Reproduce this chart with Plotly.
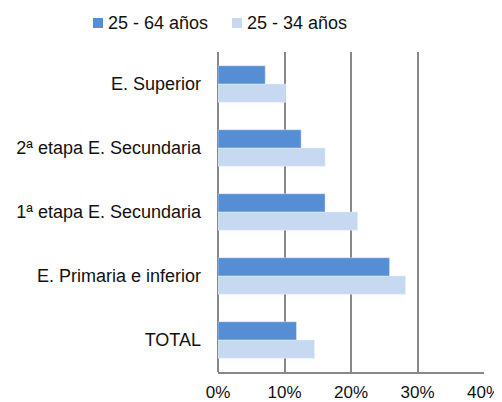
import plotly.graph_objects as go

categorias = ["TOTAL", "E. Primaria e inferior", "1ª etapa E. Secundaria",
              "2ª etapa E. Secundaria", "E. Superior"]
edad_25_64 = [11.8, 25.8, 16.1, 12.5, 7.1]
edad_25_34 = [14.5, 28.2, 21.0, 16.1, 10.2]
ticks_x = [0, 10, 20, 30, 40]
ticks_txt = [f"{t}%" for t in ticks_x]

series = [("25 - 64 años", "#558ED5"), ("25 - 34 años", "#C6D9F1")]

W, H = 502, 402
L, R, T, B = 210, 26, 44, 38
FONT = "Liberation Sans, Arial, sans-serif"


def px_x(v):
    return (v - L) / (W - L - R)


def px_y(v):
    return (H - B - v) / (H - T - B)


fig = go.Figure()
# light series first so it sits below the dark one in each group
fig.add_trace(go.Bar(y=categorias, x=edad_25_34, orientation="h",
                     name=series[1][0], marker_color=series[1][1]))
fig.add_trace(go.Bar(y=categorias, x=edad_25_64, orientation="h",
                     name=series[0][0], marker_color=series[0][1]))

# legend drawn by hand to get Excel-like spacing
leg_x = [85, 224]
for (name, col), x0 in zip(series, leg_x):
    fig.add_shape(type="rect", xref="paper", yref="paper",
                  x0=px_x(x0), x1=px_x(x0 + 10), y0=px_y(10), y1=px_y(20),
                  fillcolor=col, line_width=0)
    fig.add_annotation(text=name, xref="paper", yref="paper",
                       x=px_x(x0 + 13), y=px_y(15.5), xanchor="left", yanchor="middle",
                       showarrow=False, font=dict(size=18, family=FONT, color="#111"))

fig.update_layout(
    width=W, height=H,
    margin=dict(l=L, r=R, t=T, b=B),
    barmode="group", bargap=0.43, bargroupgap=0,
    plot_bgcolor="white", paper_bgcolor="white",
    font=dict(family=FONT, size=18, color="#111"),
    showlegend=False,
    xaxis=dict(range=[0, 40], tickvals=ticks_x, ticktext=ticks_txt,
               tickfont=dict(size=17),
               showgrid=True, gridcolor="#888888", gridwidth=1.5,
               zeroline=True, zerolinecolor="#888888", zerolinewidth=1.5,
               showline=True, linecolor="#888888", linewidth=1.5,
               ticks="", ticklabelstandoff=4, automargin=False, fixedrange=True),
    yaxis=dict(showgrid=False, ticks="", ticklabelstandoff=16, automargin=False,
               categoryorder="array", categoryarray=categorias, fixedrange=True),
)

fig.write_html("out.html")
